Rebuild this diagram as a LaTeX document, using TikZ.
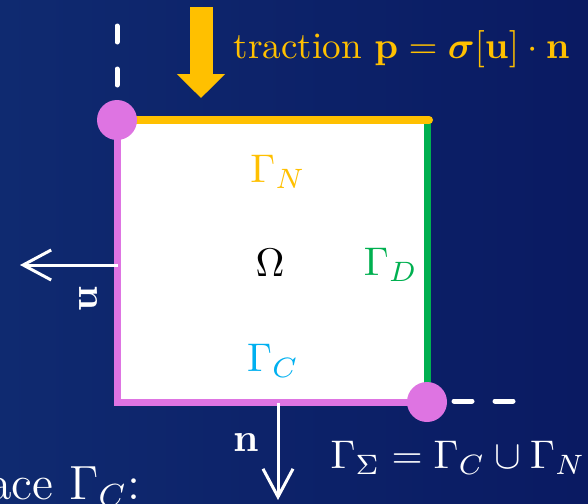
\documentclass[tikz,border=0pt]{standalone}
\usepackage{amsmath}
\usepackage{xcolor}
\usetikzlibrary{arrows.meta}
\definecolor{bgleft}{HTML}{0F2A70}
\definecolor{bgright}{HTML}{0A1A62}
\definecolor{tracyellow}{HTML}{FFC000}
\definecolor{dirgreen}{HTML}{00B050}
\definecolor{contcyan}{HTML}{00B0F0}
\definecolor{sigmapink}{HTML}{DE74E2}

\tikzset{
  lbl/.style={inner sep=0pt, font=\normalsize},
  edgeS/.style={draw=sigmapink, line width=1.75pt, line cap=round},
  edgeN/.style={draw=tracyellow, line width=2pt, line cap=round},
  edgeD/.style={draw=dirgreen, line width=1.75pt},
  corner/.style={circle, fill=sigmapink, inner sep=0pt, minimum size=10pt},
  dashline/.style={draw=white, line width=1.25pt, line cap=round},
  normalarrow/.style={draw=white, line width=0.75pt,
    -{Straight Barb[length=7pt,width=7.5pt]}},
  tractionarrow/.style={draw=tracyellow, line width=5.75pt,
    -{Triangle[length=6pt,width=11.75pt]}}
}

\begin{document}
\begin{tikzpicture}[x=0.25pt,y=-0.25pt]
  \shade[left color=bgleft, right color=bgright] (0,0) rectangle (588,503);
  \useasboundingbox (0,0) rectangle (588,503);
  \clip (0,0) rectangle (588,503);

  % square
  \coordinate (tl) at (117,120);
  \coordinate (tr) at (427,120);
  \coordinate (br) at (427,402);
  \coordinate (bl) at (117,402);
  \fill[white] (tl) rectangle (br);
  \draw[edgeD] ([yshift=-0.5pt]tr) -- (br);
  \draw[edgeS] (tl) -- (bl) -- (br);
  \draw[edgeN] (tl) -- ([xshift=0.5pt]tr);
  \node[corner] (cornerTL) at (tl) {};
  \node[corner] (cornerBR) at (br) {};

  % symmetry lines
  \coordinate (dashTop) at (117,22);
  \coordinate (dashRight) at (515,401);
  \draw[dashline, dash pattern=on 4pt off 6.75pt] (117,85) -- (dashTop);
  \draw[dashline, dash pattern=on 4.5pt off 5.75pt] (454,401) -- (dashRight);

  % traction
  \coordinate (pTop) at (201,7);
  \coordinate (pTip) at (201,98);
  \draw[tractionarrow] (pTop) -- (pTip);
  \node[lbl, text=tracyellow, anchor=base west, scale=0.93, transform shape]
    (tracLbl) at (233,58)
    {traction $\mathbf{p}=\boldsymbol{\sigma}[\mathbf{u}]\cdot\mathbf{n}$};

  % boundary labels
  \node[lbl, text=tracyellow] (lblN) at (278,172) {$\Gamma_N$};
  \node[lbl] (lblOmega) at (270,263) {$\Omega$};
  \node[lbl, text=dirgreen] (lblD) at (391,265) {$\Gamma_D$};
  \node[lbl, text=contcyan] (lblC) at (273,361) {$\Gamma_C$};

  % normals
  \coordinate (nLeftFoot) at (118,265);
  \coordinate (nLeftTip) at (20,265);
  \coordinate (nDownFoot) at (278,403);
  \coordinate (nDownTip) at (278,500);
  \draw[normalarrow] (nLeftFoot) -- (nLeftTip);
  \draw[normalarrow] (nDownFoot) -- (nDownTip);
  \node[lbl, text=white, rotate=-90] (nLeftLbl) at (88,298) {$\mathbf{n}$};
  \node[lbl, text=white] (nDownLbl) at (246,443) {$\mathbf{n}$};

  \node[lbl, text=white] (sigmaLbl) at (458,458)
    {$\Gamma_\Sigma=\Gamma_C\cup\Gamma_N$};
  \node[lbl, text=white, anchor=base east, font=\large]
    (faceLbl) at (141,499) {face $\Gamma_C$:};
\end{tikzpicture}
\end{document}
